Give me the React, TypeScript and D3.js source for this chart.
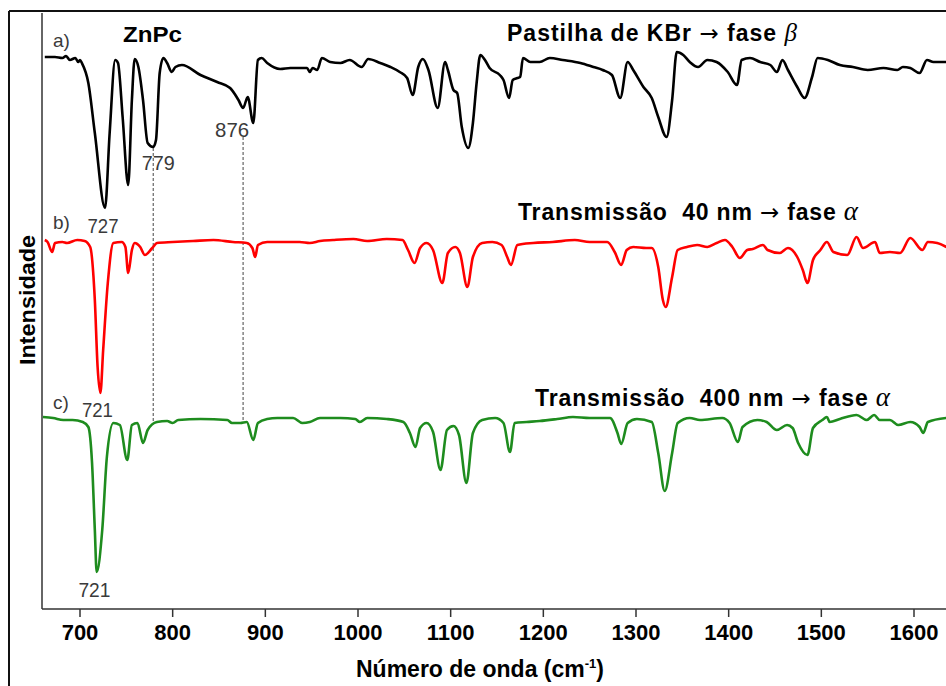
import React from "react";
import * as d3 from "d3";

// ---- Data ----
// a) Pastilha de KBr (fase beta)
const waveA = [662,673,681,685,689,695,698,700,702,709,716,727,732,738,741,746,752,756,759,763,768,773,779,782,786,790,794,799,803,810,830,848,862,871,876,881,887,892,896,902,916,927,945,948,951,956,961,970,981,991,1004,1011,1024,1035,1045,1053,1059,1065,1070,1076,1086,1094,1097,1103,1107,1112,1119,1124,1128,1132,1137,1142,1153,1157,1163,1167,1172,1175,1178,1186,1196,1207,1221,1240,1254,1264,1274,1283,1291,1297,1308,1317,1324,1333,1339,1344,1351,1358,1367,1377,1387,1399,1409,1414,1423,1434,1445,1452,1458,1464,1474,1482,1490,1496,1507,1520,1534,1550,1567,1582,1588,1596,1606,1614,1621,1635];
const intA = [552,552,551,553,549,551,547,549,546,526,476,401,476,549,546,492,424,509,550,542,509,466,462,469,536,551,546,537,542,544,534,527,521,509,501,512,486,549,551,546,540,541,541,537,541,539,551,547,546,549,542,550,546,542,537,531,514,542,550,539,501,547,539,519,516,482,461,486,526,554,549,541,534,529,511,529,531,532,551,547,547,551,549,546,542,539,534,511,547,539,522,511,492,472,509,557,554,547,542,549,547,537,524,549,551,547,544,537,549,539,522,511,532,551,549,544,542,539,541,539,542,541,536,549,547,547];

// b) Transmissão 40 nm (fase alfa)
const waveB = [662,665,670,673,681,686,697,705,711,716,719,722,725,730,736,745,749,752,756,759,765,770,778,783,800,822,844,865,880,886,889,892,902,919,937,948,959,973,995,1010,1031,1048,1054,1061,1067,1074,1081,1091,1097,1105,1110,1118,1124,1134,1145,1155,1161,1165,1172,1189,1210,1234,1250,1269,1277,1284,1290,1297,1311,1317,1324,1329,1332,1339,1345,1355,1366,1377,1387,1396,1404,1412,1420,1426,1437,1442,1455,1464,1474,1480,1485,1491,1499,1506,1513,1528,1538,1545,1558,1563,1574,1585,1596,1609,1615,1625,1635];
const intB = [369,367,357,366,367,366,369,368,362,309,242,216,259,326,366,367,362,336,359,366,362,354,361,366,367,368,369,367,366,361,352,364,367,367,367,366,368,369,370,368,370,369,359,346,361,366,359,326,356,362,356,322,352,366,367,364,352,344,364,366,367,369,367,367,357,344,359,362,361,361,342,309,302,332,359,362,364,362,366,369,362,351,359,360,364,359,356,361,352,339,326,349,359,367,357,354,372,361,367,356,357,356,371,359,367,366,362];

// c) Transmissão 400 nm (fase alfa)
const waveC = [660,671,682,692,703,709,713,716,718,724,729,736,743,751,756,762,768,773,783,794,800,806,830,859,864,873,880,887,892,902,913,930,940,948,959,981,997,1002,1010,1031,1049,1056,1062,1067,1074,1081,1089,1096,1103,1109,1117,1124,1134,1148,1157,1164,1169,1182,1196,1215,1232,1250,1272,1280,1284,1291,1301,1317,1324,1331,1339,1345,1358,1369,1393,1401,1410,1415,1431,1441,1452,1463,1469,1475,1485,1491,1501,1506,1509,1520,1538,1549,1557,1563,1574,1583,1596,1606,1610,1615,1635];
const intC = [192,191,189,189,187,182,146,79,37,79,152,186,184,149,184,186,166,179,187,188,186,189,190,189,186,186,187,169,186,190,191,191,186,187,191,191,190,187,191,190,187,176,162,181,186,177,139,179,183,174,126,176,189,191,186,157,186,187,188,190,192,191,191,176,165,186,190,187,156,118,156,186,191,189,191,186,167,182,189,187,179,184,181,166,154,181,189,192,187,190,194,189,194,189,189,184,187,182,176,187,191];

const xTicks = [700, 800, 900, 1000, 1100, 1200, 1300, 1400, 1500, 1600];
const markerLines = [779, 876];

const W = 946;
const H = 686;

export default function App() {
  const x = d3.scaleLinear().domain([700, 1600]).range([80, 914]);
  const y = d3.scaleLinear().domain([0, 596]).range([609, 13]);
  const line = d3
    .line<[number, number]>()
    .x((d) => x(d[0]))
    .y((d) => y(d[1]))
    .curve(d3.curveMonotoneX);
  const zip = (w: number[], v: number[]) =>
    w.map((wv, i) => [wv, v[i]] as [number, number]);

  const x0 = x.invert(42);
  const font = "'Liberation Sans', Arial, sans-serif";
  const greek = "'Liberation Serif', 'DejaVu Serif', serif";
  const arrowFont = "'DejaVu Sans', sans-serif";
  const numCol = "#3a3a3a";

  return (
    <svg
      width={W}
      height={H}
      style={{ position: "absolute", left: 0, top: 0, background: "#fff" }}
      fontFamily={font}
    >
      {/* outer frame */}
      <line x1={9} y1={11} x2={W} y2={11} stroke="#111" strokeWidth={2} />
      <line x1={9} y1={11} x2={9} y2={H} stroke="#111" strokeWidth={2} />

      {/* axes */}
      <line x1={42} y1={13} x2={42} y2={609} stroke="#333" strokeWidth={1.5} />
      <line x1={42} y1={609} x2={W} y2={609} stroke="#333" strokeWidth={1.5} />
      {xTicks.map((t) => (
        <g key={t}>
          <line x1={x(t)} x2={x(t)} y1={609} y2={617} stroke="#333" strokeWidth={1.5} />
          <text x={x(t)} y={640} textAnchor="middle" fontSize={22} fontWeight="bold" fill="#000">
            {t}
          </text>
        </g>
      ))}

      {/* dashed marker lines */}
      <line x1={x(markerLines[0])} x2={x(markerLines[0])} y1={148} y2={422} stroke="#444" strokeWidth={1} strokeDasharray="3,2" />
      <line x1={x(markerLines[1])} x2={x(markerLines[1])} y1={137} y2={422} stroke="#444" strokeWidth={1} strokeDasharray="3,2" />

      {/* spectra */}
      <path d={line(zip(waveA, intA).filter((d) => d[0] >= x0)) || ""} fill="none" stroke="#000" strokeWidth={2.6} strokeLinejoin="round" />
      <path d={line(zip(waveB, intB).filter((d) => d[0] >= x0)) || ""} fill="none" stroke="#ff0000" strokeWidth={2.6} strokeLinejoin="round" />
      <path d={line(zip(waveC, intC).filter((d) => d[0] >= x0)) || ""} fill="none" stroke="#1e8c1e" strokeWidth={2.6} strokeLinejoin="round" />

      {/* trace letters */}
      <text x={53} y={47} fontSize={19} fill={numCol}>a)</text>
      <text x={53} y={229} fontSize={19} fill={numCol}>b)</text>
      <text x={53} y={409} fontSize={19} fill={numCol}>c)</text>

      {/* peak labels */}
      <text x={x(727) - 2} y={233} textAnchor="middle" fontSize={21} fill={numCol} textLength={31} lengthAdjust="spacingAndGlyphs">727</text>
      <text x={x(779) + 5} y={170} textAnchor="middle" fontSize={21} fill={numCol} textLength={33} lengthAdjust="spacingAndGlyphs">779</text>
      <text x={x(876) - 11} y={137} textAnchor="middle" fontSize={21} fill={numCol} textLength={34} lengthAdjust="spacingAndGlyphs">876</text>
      <text x={x(721) - 2} y={417} textAnchor="middle" fontSize={21} fill={numCol} textLength={31} lengthAdjust="spacingAndGlyphs">721</text>
      <text x={x(721) - 5} y={597} textAnchor="middle" fontSize={21} fill={numCol} textLength={32} lengthAdjust="spacingAndGlyphs">721</text>

      {/* titles */}
      <text x={123} y={42} fontSize={22} fontWeight="bold" fill="#000" textLength={59} lengthAdjust="spacingAndGlyphs">ZnPc</text>
      <text x={507} y={41} fontSize={23} fontWeight="bold" fill="#000" textLength={290} lengthAdjust="spacing">
        {"Pastilha de KBr "}
        <tspan fontFamily={arrowFont} fontWeight="normal" fontSize={23}>→</tspan>
        {" fase "}
        <tspan fontFamily={greek} fontStyle="italic" fontWeight="normal" fontSize={25}>β</tspan>
      </text>
      <text x={518} y={220} fontSize={23} fontWeight="bold" fill="#000" xmlSpace="preserve" textLength={340} lengthAdjust="spacing">
        {"Transmissão  40 nm "}
        <tspan fontFamily={arrowFont} fontWeight="normal" fontSize={23}>→</tspan>
        {" fase "}
        <tspan fontFamily={greek} fontStyle="italic" fontWeight="normal" fontSize={27}>α</tspan>
      </text>
      <text x={535} y={406} fontSize={23} fontWeight="bold" fill="#000" xmlSpace="preserve" textLength={355} lengthAdjust="spacing">
        {"Transmissão  400 nm "}
        <tspan fontFamily={arrowFont} fontWeight="normal" fontSize={23}>→</tspan>
        {" fase "}
        <tspan fontFamily={greek} fontStyle="italic" fontWeight="normal" fontSize={27}>α</tspan>
      </text>

      {/* axis titles */}
      <text x={480} y={677} textAnchor="middle" fontSize={23} fontWeight="bold" fill="#000">
        Número de onda (cm
        <tspan fontSize={13} dy={-9}>-1</tspan>
        <tspan dy={9}>)</tspan>
      </text>
      <text
        transform="translate(35,300) rotate(-90)"
        textAnchor="middle"
        fontSize={22}
        fontWeight="bold"
        fill="#000"
        textLength={130}
        lengthAdjust="spacingAndGlyphs"
      >
        Intensidade
      </text>
    </svg>
  );
}
